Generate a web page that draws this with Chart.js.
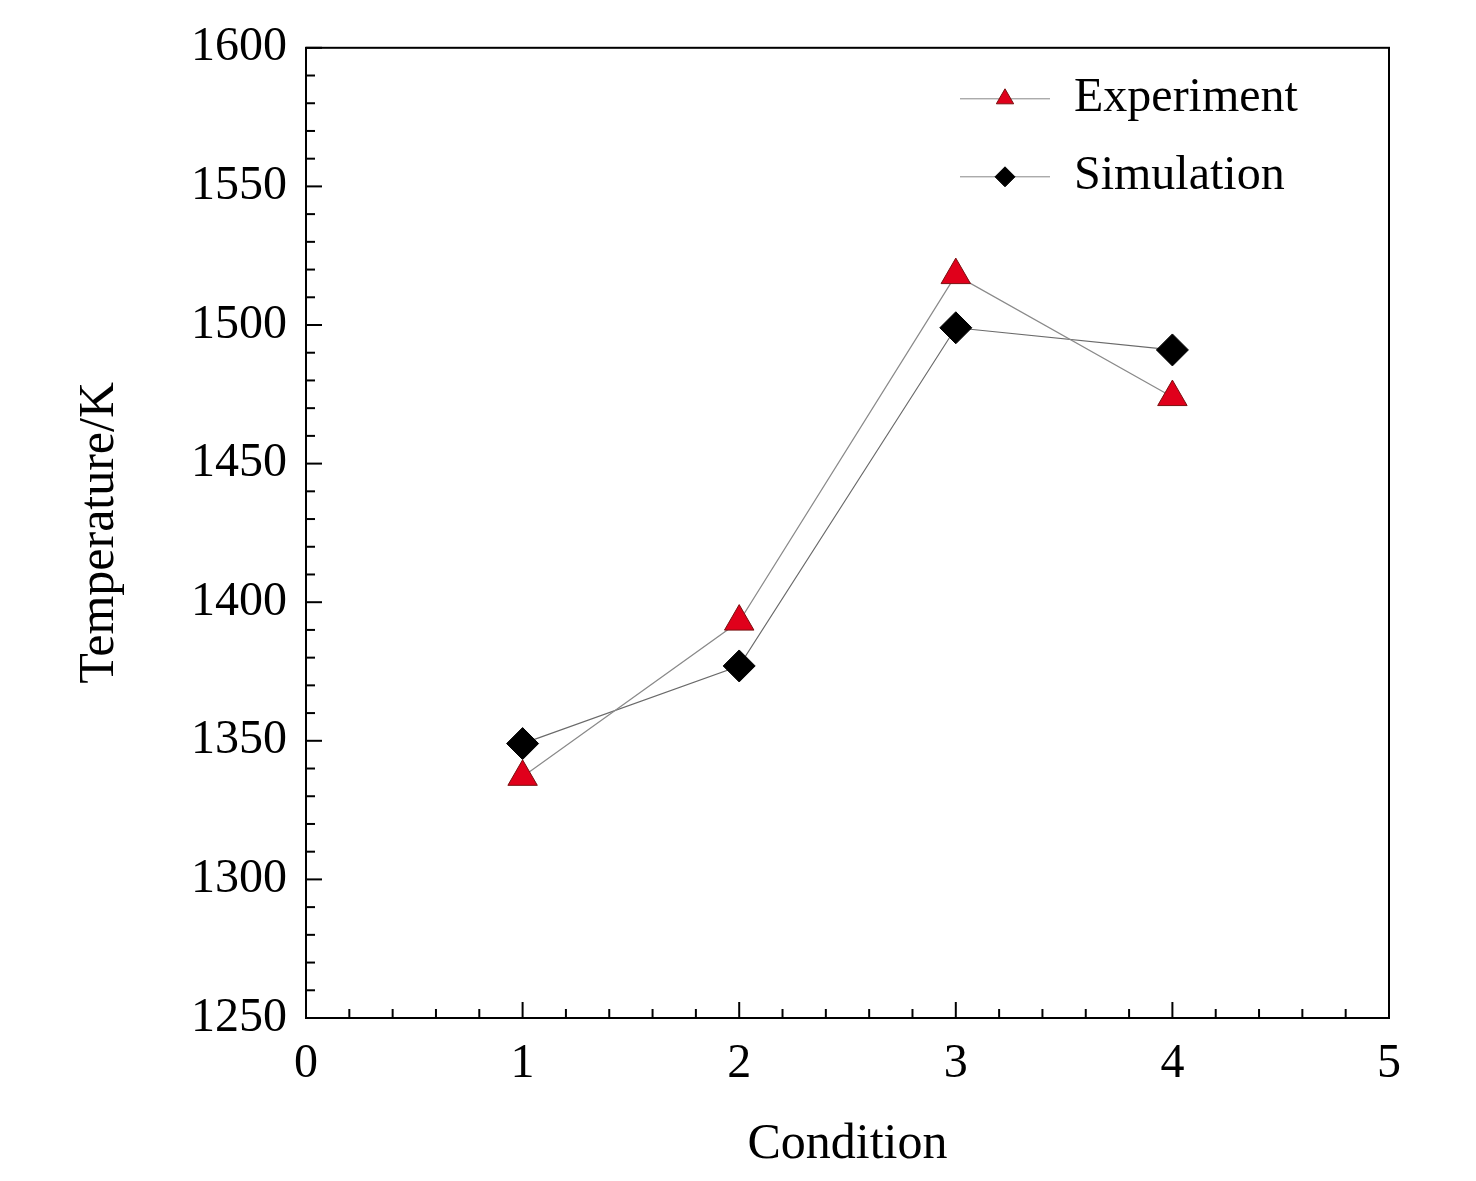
<!DOCTYPE html>
<html>
<head>
<meta charset="utf-8">
<script src="https://cdn.jsdelivr.net/npm/chart.js@4"></script>
<style>
  html, body { margin: 0; padding: 0; background: #fff; }
  #wrap { width: 1476px; height: 1181px; }
</style>
</head>
<body>
<div id="wrap"><canvas id="c"></canvas></div>
<script>
// condition numbers and temperatures
const conditions = [1, 2, 3, 4];
const experiment = [1337, 1393, 1518, 1474];
const simulation = [1349, 1377, 1499, 1491];
const seriesNames = ['Experiment', 'Simulation'];

const FONT = '"Liberation Serif", "Times New Roman", serif';

const toPoints = vals => conditions.map((c, i) => ({ x: c, y: vals[i] }));

// frame + inward ticks + legend drawn inside the plot box
const framePlugin = {
    id: 'frame',
    afterDraw(chart) {
        const { ctx, chartArea: a, scales } = chart;
        ctx.save();
        ctx.strokeStyle = '#000';
        ctx.lineWidth = 2;
        ctx.strokeRect(a.left, a.top, a.right - a.left, a.bottom - a.top);

        // x ticks (major every 1, minor every 0.2)
        for (let i = 0; i <= 25; i++) {
            const px = scales.x.getPixelForValue(i * 0.2);
            const len = i % 5 === 0 ? 16 : 9;
            ctx.beginPath();
            ctx.moveTo(px, a.bottom);
            ctx.lineTo(px, a.bottom - len);
            ctx.stroke();
        }
        // y ticks (major every 50, minor every 10)
        for (let v = 1250; v <= 1600; v += 10) {
            const py = scales.y.getPixelForValue(v);
            const len = (v - 1250) % 50 === 0 ? 16 : 9;
            ctx.beginPath();
            ctx.moveTo(a.left, py);
            ctx.lineTo(a.left + len, py);
            ctx.stroke();
        }

        // legend
        const rows = [
            { name: seriesNames[0], y: a.top + 51, ds: chart.data.datasets[0] },
            { name: seriesNames[1], y: a.top + 129, ds: chart.data.datasets[1] }
        ];
        ctx.font = '48px ' + FONT;
        ctx.textBaseline = 'middle';
        rows.forEach(r => {
            ctx.strokeStyle = '#888';
            ctx.lineWidth = 1;
            ctx.beginPath();
            ctx.moveTo(a.left + 654, r.y);
            ctx.lineTo(a.left + 744, r.y);
            ctx.stroke();
            ctx.fillStyle = r.ds.pointBackgroundColor;
            ctx.strokeStyle = r.ds.pointBorderColor;
            Chart.helpers.drawPoint(ctx, {
                pointStyle: r.ds.pointStyle, radius: 10, borderWidth: 1
            }, a.left + 699, r.y);
            ctx.fillStyle = '#000';
            ctx.fillText(r.name, a.left + 768, r.y);
        });
        ctx.restore();
    }
};

Chart.defaults.font.family = FONT;
Chart.defaults.color = '#000';

new Chart(document.getElementById('c'), {
    type: 'line',
    data: {
        datasets: [
            {
                label: seriesNames[0],
                data: toPoints(experiment),
                borderColor: '#8a8a8a',
                borderWidth: 1.2,
                pointStyle: 'triangle',
                pointRadius: 17,
                pointBackgroundColor: '#e0001b',
                pointBorderColor: '#7a1010',
                pointBorderWidth: 1
            },
            {
                label: seriesNames[1],
                data: toPoints(simulation),
                borderColor: '#6a6a6a',
                borderWidth: 1.2,
                pointStyle: 'rectRot',
                pointRadius: 16,
                pointBackgroundColor: '#000',
                pointBorderColor: '#000',
                pointBorderWidth: 1
            }
        ]
    },
    options: {
        responsive: true,
        maintainAspectRatio: false,
        animation: false,
        layout: { padding: { top: 10, right: 87, left: 0, bottom: 0 } },
        plugins: { legend: { display: false }, tooltip: { enabled: false } },
        scales: {
            x: {
                type: 'linear', min: 0, max: 5,
                grid: { display: false, drawTicks: false },
                border: { display: false },
                ticks: { stepSize: 1, padding: 18, font: { size: 48 } },
                title: { display: true, text: 'Condition', font: { size: 50 }, padding: { top: 0, bottom: 6 } },
                afterFit: s => { s.height = 163; }
            },
            y: {
                min: 1250, max: 1600,
                grid: { display: false, drawTicks: false },
                border: { display: false },
                ticks: { stepSize: 50, padding: 19, font: { size: 48 }, callback: v => String(v) },
                title: { display: true, text: 'Temperature/K', font: { size: 50 }, padding: { top: 70, bottom: 0 } },
                afterFit: s => { s.width = 306; }
            }
        }
    },
    plugins: [framePlugin]
});
</script>
</body>
</html>
